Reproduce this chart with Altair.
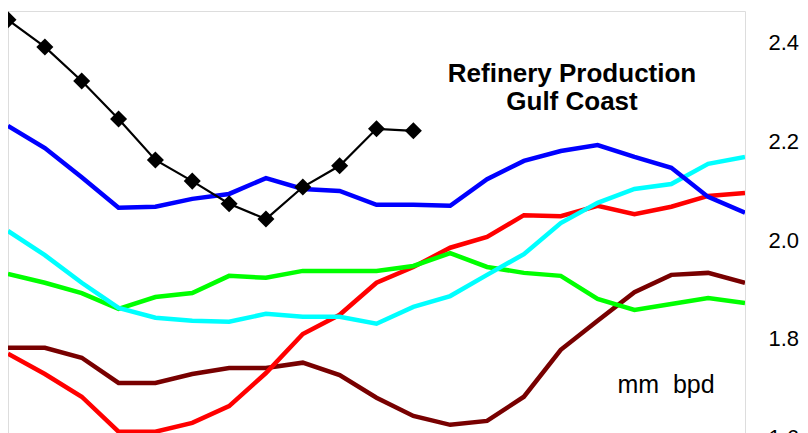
import altair as alt
import pandas as pd

weeks = list(range(21))

blue = [2.232, 2.187, 2.128, 2.066, 2.068, 2.084, 2.094, 2.126, 2.104, 2.100, 2.072,
        2.072, 2.070, 2.124, 2.161, 2.181, 2.193, 2.169, 2.147, 2.088, 2.056]
cyan = [2.019, 1.970, 1.914, 1.863, 1.843, 1.837, 1.835, 1.851, 1.845, 1.845, 1.831,
        1.865, 1.887, 1.930, 1.972, 2.035, 2.076, 2.104, 2.114, 2.155, 2.169]
green = [1.932, 1.914, 1.893, 1.861, 1.885, 1.893, 1.928, 1.924, 1.938, 1.938, 1.938,
         1.948, 1.974, 1.946, 1.934, 1.928, 1.881, 1.859, 1.871, 1.883, 1.873]
red = [1.770, 1.729, 1.683, 1.612, 1.612, 1.630, 1.664, 1.731, 1.810, 1.849, 1.914,
       1.946, 1.985, 2.007, 2.051, 2.049, 2.070, 2.053, 2.068, 2.090, 2.096]
maroon = [1.782, 1.782, 1.762, 1.711, 1.711, 1.729, 1.741, 1.741, 1.752, 1.727, 1.681,
          1.644, 1.626, 1.634, 1.683, 1.778, 1.837, 1.895, 1.930, 1.934, 1.914]
current = [2.447, 2.392, 2.323, 2.246, 2.163, 2.120, 2.074, 2.043, 2.108, 2.151, 2.226, 2.222]

y_ticks = [1.6, 1.8, 2.0, 2.2, 2.4]

W, H = 737, 476
xs = alt.Scale(domain=[0, 20], nice=False, zero=False)
ys = alt.Scale(domain=[1.5, 2.4648], nice=False, zero=False)
y_axis = alt.Axis(orient="right", values=y_ticks, format=".1f", domain=False,
                  ticks=False, grid=False, labelFontSize=22, labelFont="Liberation Sans",
                  labelColor="#000000", labelAlign="left", labelPadding=23,
                  labelFlush=False, title=None)


def Y():
    return alt.Y("v:Q", scale=ys, axis=y_axis)


def X():
    return alt.X("week:Q", scale=xs, axis=None)


def line(vals, color, width):
    df = pd.DataFrame({"week": weeks[:len(vals)], "v": vals})
    return alt.Chart(df).mark_line(color=color, strokeWidth=width, clip=True).encode(
        x=X(), y=Y())


cur_df = pd.DataFrame({"week": weeks[:len(current)], "v": current})
black = alt.Chart(cur_df).mark_line(
    color="#000000", strokeWidth=2.2,
    point=alt.OverlayMarkDef(shape="diamond", size=290, filled=True, color="#000000"),
).encode(x=X(), y=Y())

title_df = pd.DataFrame({"t": ["Refinery Production", "Gulf Coast"], "yy": [71, 99]})
title = alt.Chart(title_df).mark_text(
    font="Liberation Sans", fontSize=26, fontWeight="bold", color="#000000",
    align="center", baseline="alphabetic",
).encode(x=alt.value(564), y=alt.Y("yy:Q", scale=None), text="t:N")

unit = alt.Chart(pd.DataFrame({"t": ["mm\u00a0\u00a0bpd"]})).mark_text(
    font="Liberation Sans", fontSize=25, color="#000000",
    align="center", baseline="alphabetic",
).encode(x=alt.value(658), y=alt.value(382), text="t:N")

chart = alt.layer(
    line(maroon, "#780000", 4.5),
    line(red, "#ff0000", 4.5),
    line(green, "#00ff00", 4.5),
    line(cyan, "#00ffff", 4.5),
    line(blue, "#0000ff", 4.5),
    black,
    title,
    unit,
).properties(
    width=W, height=H,
    autosize=alt.AutoSizeParams(type="none"),
    padding={"left": 0, "top": 3, "right": 55, "bottom": 0},
).configure_view(stroke="#707070", strokeWidth=1.5).configure(background="#ffffff")

chart.save("out.html", embed_options={"renderer": "svg", "actions": False})
